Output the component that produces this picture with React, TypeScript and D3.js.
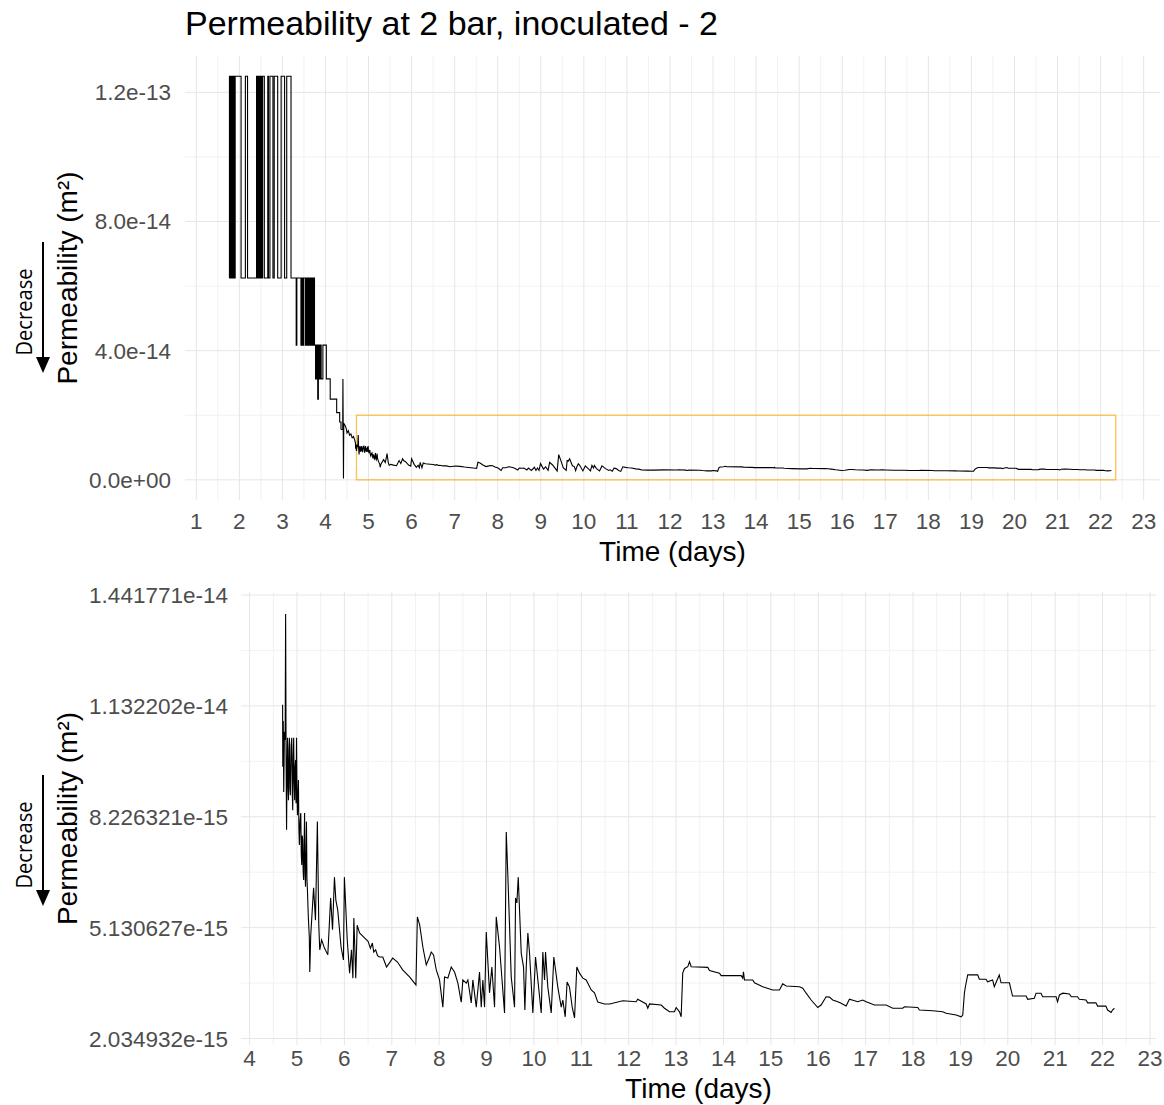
import React, { useRef, useEffect } from 'react';
import * as d3 from 'd3';

// permeability values are stored in units of 1e-15 m²
const E15 = 1e-15;

// first days: the sensor only gives a few quantised levels, each held until the next reading
const stepDays = [
    1.767, 1.770, 1.776, 1.782, 1.790, 1.797, 1.805, 1.813, 1.820, 1.830, 1.840, 1.850, 1.858, 1.866,
    1.875, 1.885, 1.893, 1.903, 2.04, 2.14, 2.19, 2.40, 2.41, 2.42, 2.43, 2.44, 2.45, 2.465, 2.475,
    2.49, 2.50, 2.515, 2.53, 2.54, 2.58, 2.66, 2.675, 2.71, 2.78, 2.81, 2.89, 2.97, 3.05, 3.10, 3.20,
    3.32, 3.335, 3.43, 3.45, 3.47, 3.49, 3.53, 3.542, 3.554, 3.566, 3.578, 3.59, 3.602, 3.614, 3.626,
    3.638, 3.65, 3.662, 3.674, 3.686, 3.698, 3.71, 3.722, 3.734, 3.745, 3.77, 3.785, 3.80, 3.81, 3.82,
    3.835, 3.845, 3.86, 3.875, 3.90, 3.94, 4.02, 4.11, 4.26, 4.33, 4.36
];
const stepPerm = [
    62.5, 125, 62.5, 125, 62.5, 125, 62.5, 125, 62.5, 125, 62.5, 125, 62.5, 125,
    62.5, 125, 62.5, 125, 62.5, 125, 62.5, 125, 62.5, 125, 62.5, 125, 62.5, 125, 62.5,
    125, 62.5, 125, 62.5, 125, 62.5, 125, 62.5, 125, 62.5, 125, 62.5, 125, 62.5, 125, 62.5,
    41.7, 62.5, 41.7, 62.5, 41.7, 62.5, 41.7, 62.5, 41.7, 62.5, 41.7, 62.5, 41.7, 62.5, 41.7,
    62.5, 41.7, 62.5, 41.7, 62.5, 41.7, 62.5, 41.7, 62.5, 41.7, 31.25, 41.7, 31.25, 41.7, 25,
    31.25, 41.7, 31.25, 41.7, 31.25, 41.7, 31.25, 25, 20.8, 17.9, 15.6
];

// drop towards the zoomed window (only seen in the top chart)
const transitionDays = [4.36, 4.40, 4.405, 4.412, 4.418, 4.425, 4.45, 4.48, 4.50, 4.53, 4.56, 4.59, 4.62, 4.65, 4.68];
const transitionPerm = [15.6, 15.6, 31.25, 15.6, 0.4, 17.5, 17.0, 16.0, 14.5, 15.2, 13.8, 14.2, 13.0, 13.4, 12.3];

// fast decay, day 4.7 to 7.6
const decayDays = [
    4.696, 4.700, 4.710, 4.720, 4.735, 4.750, 4.760, 4.770, 4.780, 4.790, 4.800, 4.810, 4.820, 4.830,
    4.840, 4.850, 4.860, 4.875, 4.890, 4.900, 4.910, 4.920, 4.930, 4.940, 4.950, 4.960, 4.970, 4.980,
    4.990, 5.000, 5.010, 5.020, 5.030, 5.040, 5.050, 5.065, 5.080, 5.090, 5.100, 5.110, 5.120, 5.130,
    5.140, 5.150, 5.160, 5.170, 5.180, 5.190, 5.200, 5.210, 5.220, 5.240, 5.260, 5.270, 5.290, 5.350,
    5.390, 5.430, 5.460, 5.480, 5.520, 5.580, 5.650, 5.710, 5.750, 5.790, 5.820, 5.860, 5.930, 5.980,
    6.000, 6.060, 6.110, 6.150, 6.180, 6.200, 6.240, 6.270, 6.320, 6.430, 6.500, 6.550, 6.590, 6.620,
    6.660, 6.700, 6.740, 6.810, 6.890, 7.020, 7.120, 7.230, 7.380, 7.480, 7.510, 7.540, 7.590
];
const decayPerm = [
    11.35, 9.62, 10.9, 8.92, 10.6, 10.37, 13.89, 9.81, 7.86, 9.5, 10.43, 9.1, 8.69, 10.1,
    10.43, 9.0, 8.83, 10.2, 10.43, 8.9, 8.41, 9.9, 10.43, 9.2, 8.69, 9.6, 9.81, 8.6,
    10.43, 8.9, 8.27, 8.8, 9.25, 7.9, 7.44, 8.1, 8.33, 7.2, 6.88, 7.7, 7.58, 6.7,
    6.46, 7.4, 8.33, 6.6, 6.27, 7.2, 8.09, 6.5, 6.18, 5.4, 4.87, 3.89, 4.92, 6.24,
    5.34, 8.09, 5.2, 4.51, 4.79, 4.56, 4.37, 5.96, 5.07, 6.54, 5.9, 5.62, 4.59, 4.23,
    6.54, 4.79, 3.86, 4.51, 3.72, 5.40, 3.72, 5.20, 4.98, 4.84, 4.75, 4.55, 4.70, 4.45,
    4.51, 4.35, 4.31, 4.31, 4.03, 4.28, 4.17, 3.95, 3.75, 3.58, 3.53, 5.43, 5.20
];

// noisy stretch, day 7.6 to 11.6
const spikyDays = [
    7.656, 7.728, 7.797, 7.833, 7.882, 7.939, 8.008, 8.078, 8.114, 8.184, 8.255, 8.325, 8.395, 8.466,
    8.500, 8.572, 8.606, 8.677, 8.711, 8.783, 8.852, 8.888, 8.922, 8.958, 8.994, 9.063, 9.112, 9.169,
    9.205, 9.274, 9.380, 9.416, 9.451, 9.521, 9.591, 9.612, 9.640, 9.669, 9.732, 9.781, 9.809, 9.838,
    9.872, 9.907, 9.977, 10.034, 10.083, 10.154, 10.188, 10.224, 10.245, 10.293, 10.365, 10.420,
    10.504, 10.576, 10.610, 10.660, 10.700, 10.751, 10.808, 10.857, 10.905, 10.962, 11.032, 11.103,
    11.209, 11.278, 11.348, 11.489, 11.600
];
const spikyPerm = [
    4.59, 4.09, 4.31, 4.45, 4.37, 3.95, 3.67, 2.91, 3.75, 3.72, 4.03, 3.89, 3.58, 3.05,
    3.67, 3.58, 3.67, 3.03, 3.67, 2.91, 3.89, 2.91, 3.67, 2.91, 5.01, 3.31, 4.03, 2.91,
    5.43, 4.59, 2.75, 7.80, 6.54, 3.75, 2.91, 5.96, 5.82, 6.54, 4.42, 4.03, 2.83, 4.03,
    4.98, 4.42, 2.75, 4.31, 3.67, 2.75, 4.45, 3.67, 4.45, 3.47, 2.75, 4.31,
    3.47, 2.91, 3.11, 2.64, 3.61, 3.47, 2.91, 2.61, 4.03, 3.86, 3.72, 3.67,
    3.39, 3.31, 3.05, 3.00, 3.00
];

// slow drift, day 11.6 to the end
const tailDays = [
    11.876, 12.158, 12.19, 12.369, 12.403, 12.439, 12.686, 12.755, 12.861, 12.966, 13.002, 13.072,
    13.107, 13.14, 13.177, 13.247, 13.283, 13.318, 13.669, 13.705, 13.916, 13.951, 14.373, 14.407,
    14.422, 14.443, 14.618, 14.654, 14.829, 15.04, 15.181, 15.25, 15.323, 15.603, 15.673, 15.745,
    15.85, 15.99, 16.06, 16.166, 16.236, 16.306, 16.412, 16.483, 16.588, 16.658, 16.834, 16.94,
    17.01, 17.186, 17.433, 17.572, 17.783, 17.819, 18.10, 18.135, 18.416, 18.627, 18.698, 18.91,
    19.015, 19.05, 19.084, 19.105, 19.154, 19.365, 19.40, 19.54, 19.574, 19.68, 19.715, 19.75,
    19.82, 19.858, 20.034, 20.069, 20.10, 20.386, 20.42, 20.56, 20.597, 20.70, 20.736, 21.02,
    21.05, 21.09, 21.16, 21.30, 21.34, 21.47, 21.51, 21.65, 21.686, 21.86, 21.896, 22.07,
    22.107, 22.18, 22.21, 22.25
];
const tailPerm = [
    3.09, 3.06, 3.13, 3.00, 2.88, 3.00, 2.97, 2.88, 2.78, 2.78, 2.90, 2.78,
    2.64, 3.86, 3.99, 4.04, 4.18, 4.04, 4.02, 3.93, 3.86, 3.79, 3.79, 3.72,
    3.90, 3.67, 3.67, 3.59, 3.48, 3.39, 3.39, 3.56, 3.50, 3.48, 3.44, 3.30,
    3.11, 2.90, 2.97, 3.20, 3.19, 3.11, 3.06, 3.02, 2.94, 3.13, 3.06, 3.11,
    3.06, 2.97, 2.97, 2.88, 2.88, 2.92, 2.90, 2.83, 2.81, 2.78, 2.74, 2.69,
    2.64, 2.69, 3.30, 3.48, 3.81, 3.81, 3.69, 3.69, 3.62, 3.67, 3.48, 3.59,
    3.81, 3.59, 3.59, 3.39, 3.22, 3.22, 3.13, 3.16, 3.30, 3.30, 3.20, 3.20,
    3.06, 3.25, 3.30, 3.28, 3.20, 3.20, 3.13, 3.11, 3.03, 3.03, 2.94, 2.94,
    2.83, 2.76, 2.83, 2.88
];

// zoomed window marked on the top chart
const zoomBox = { x0: 4.72, x1: 22.35, y0: 0, y1: 20 * E15 };
const bottomStart = 4.69;

const topXTicks = [1, 2, 3, 4, 5, 6, 7, 8, 9, 10, 11, 12, 13, 14, 15, 16, 17, 18, 19, 20, 21, 22, 23];
const topYTicks = [0, 4e-14, 8e-14, 1.2e-13];
const topYLabels = ['0.0e+00', '4.0e-14', '8.0e-14', '1.2e-13'];
const bottomXTicks = [4, 5, 6, 7, 8, 9, 10, 11, 12, 13, 14, 15, 16, 17, 18, 19, 20, 21, 22, 23];
const bottomYTicks = [2.034932e-15, 5.130627e-15, 8.226321e-15, 1.132202e-14, 1.441771e-14];
const bottomYLabels = ['2.034932e-15', '5.130627e-15', '8.226321e-15', '1.132202e-14', '1.441771e-14'];

const toPoints = (days, perm) => days.map((t, i) => ({ t, k: perm[i] * E15 }));

const FONT = '"Liberation Sans", Arial, sans-serif';

// ggplot-like 5% padding
const expand = ([lo, hi]) => {
    const pad = (hi - lo) * 0.05;
    return [lo - pad, hi + pad];
};

const minorsOf = (majors, domain) => {
    const step = majors[1] - majors[0];
    const mids = [majors[0] - step / 2, ...majors.map(v => v + step / 2)];
    return mids.filter(v => v > domain[0] && v < domain[1]);
};

const drawChart = (svg, opts) => {
    const { panel, x, y, xTicks, yTicks, yLabels, yLabelX, xLabelY, xTitleY, arrowTop } = opts;
    const g = svg.append('g');

    // grid
    const xDom = x.domain();
    const yDom = y.domain();
    minorsOf(xTicks, xDom).forEach(v => {
        g.append('line').attr('x1', x(v)).attr('x2', x(v)).attr('y1', panel.top).attr('y2', panel.bottom)
            .attr('stroke', '#f2f2f2').attr('stroke-width', 1);
    });
    minorsOf(yTicks, [Math.min(...yDom), Math.max(...yDom)]).forEach(v => {
        if (y(v) < panel.top || y(v) > panel.bottom) return;
        g.append('line').attr('x1', panel.left).attr('x2', panel.right).attr('y1', y(v)).attr('y2', y(v))
            .attr('stroke', '#f2f2f2').attr('stroke-width', 1);
    });
    xTicks.forEach(v => {
        g.append('line').attr('x1', x(v)).attr('x2', x(v)).attr('y1', panel.top).attr('y2', panel.bottom)
            .attr('stroke', '#e6e6e6').attr('stroke-width', 1);
    });
    yTicks.forEach(v => {
        g.append('line').attr('x1', panel.left).attr('x2', panel.right).attr('y1', y(v)).attr('y2', y(v))
            .attr('stroke', '#e6e6e6').attr('stroke-width', 1);
    });

    // tick labels
    g.selectAll('.xt').data(xTicks).enter().append('text')
        .attr('x', d => x(d)).attr('y', xLabelY)
        .attr('text-anchor', 'middle').attr('font-family', FONT).attr('font-size', 22.5).attr('fill', '#4d4d4d')
        .text(d => d);
    g.selectAll('.yt').data(yTicks).enter().append('text')
        .attr('x', yLabelX).attr('y', d => y(d) + 8)
        .attr('text-anchor', 'end').attr('font-family', FONT).attr('font-size', 22.5).attr('fill', '#4d4d4d')
        .text((d, i) => yLabels[i]);

    // axis titles
    const midY = (panel.top + panel.bottom) / 2;
    g.append('text')
        .attr('x', (panel.left + panel.right) / 2).attr('y', xTitleY)
        .attr('text-anchor', 'middle').attr('font-family', FONT).attr('font-size', 28).attr('fill', '#000')
        .text('Time (days)');
    g.append('text')
        .attr('transform', `translate(77,${midY}) rotate(-90)`)
        .attr('text-anchor', 'middle').attr('font-family', FONT).attr('font-size', 28).attr('fill', '#000')
        .text('Permeability (m²)');

    // "Decrease" arrow next to the y title
    g.append('line').attr('x1', 43).attr('x2', 43).attr('y1', arrowTop).attr('y2', arrowTop + 117)
        .attr('stroke', '#000').attr('stroke-width', 2);
    g.append('path')
        .attr('d', `M36,${arrowTop + 115} L50,${arrowTop + 115} L43,${arrowTop + 131} Z`)
        .attr('fill', '#000');
    g.append('text')
        .attr('transform', `translate(32,${arrowTop + 70}) rotate(-90)`)
        .attr('text-anchor', 'middle').attr('font-family', '"Open Sans", sans-serif').attr('font-size', 22)
        .attr('textLength', 87).attr('lengthAdjust', 'spacingAndGlyphs')
        .attr('fill', '#000')
        .text('Decrease');

    return g;
};

const App = () => {
    const svgRef = useRef(null);

    useEffect(() => {
        const svg = d3.select(svgRef.current);
        svg.selectAll('*').remove();

        const stepSeries = toPoints(stepDays, stepPerm);
        const lineSeries = [
            ...toPoints(transitionDays, transitionPerm),
            ...toPoints(decayDays, decayPerm),
            ...toPoints(spikyDays, spikyPerm),
            ...toPoints(tailDays, tailPerm)
        ];
        const bottomSeries = lineSeries.filter(d => d.t >= bottomStart);

        // title
        svg.append('text')
            .attr('x', 185).attr('y', 35)
            .attr('font-family', FONT).attr('font-size', 34).attr('fill', '#000')
            .text('Permeability at 2 bar, inoculated - 2');

        // ---- top chart: whole experiment
        const topPanel = { left: 185, right: 1160, top: 56, bottom: 500 };
        const xTop = d3.scaleLinear()
            .domain(expand([d3.min(stepDays), zoomBox.x1]))
            .range([topPanel.left, topPanel.right]);
        const yTop = d3.scaleLinear()
            .domain(expand([0, d3.max(stepPerm) * E15]))
            .range([topPanel.bottom, topPanel.top]);

        const gTop = drawChart(svg, {
            panel: topPanel, x: xTop, y: yTop,
            xTicks: topXTicks, yTicks: topYTicks, yLabels: topYLabels,
            yLabelX: 171, xLabelY: 529, xTitleY: 561, arrowTop: 242
        });

        gTop.append('rect')
            .attr('x', xTop(zoomBox.x0)).attr('y', yTop(zoomBox.y1))
            .attr('width', xTop(zoomBox.x1) - xTop(zoomBox.x0))
            .attr('height', yTop(zoomBox.y0) - yTop(zoomBox.y1))
            .attr('fill', 'none').attr('stroke', 'orange').attr('stroke-opacity', 0.65).attr('stroke-width', 1.4);

        const stepLine = d3.line().x(d => xTop(d.t)).y(d => yTop(d.k)).curve(d3.curveStepAfter);
        const topLine = d3.line().x(d => xTop(d.t)).y(d => yTop(d.k));
        gTop.append('path').attr('d', stepLine(stepSeries))
            .attr('fill', 'none').attr('stroke', '#000').attr('stroke-width', 1.1);
        gTop.append('path').attr('d', topLine(lineSeries))
            .attr('fill', 'none').attr('stroke', '#000').attr('stroke-width', 1.1);

        // ---- bottom chart: zoomed window
        const bottomPanel = { left: 241, right: 1156, top: 592, bottom: 1045 };
        const xBot = d3.scaleLinear()
            .domain(expand(d3.extent(bottomSeries, d => d.t)))
            .range([bottomPanel.left, bottomPanel.right]);
        const yBot = d3.scaleLinear()
            .domain([bottomYTicks[0], bottomYTicks[bottomYTicks.length - 1]])
            .range([1038.5, 595]);

        const gBot = drawChart(svg, {
            panel: bottomPanel, x: xBot, y: yBot,
            xTicks: bottomXTicks, yTicks: bottomYTicks, yLabels: bottomYLabels,
            yLabelX: 228, xLabelY: 1066, xTitleY: 1098, arrowTop: 775
        });

        const botLine = d3.line().x(d => xBot(d.t)).y(d => yBot(d.k));
        gBot.append('path').attr('d', botLine(bottomSeries))
            .attr('fill', 'none').attr('stroke', '#000').attr('stroke-width', 1.1);
    }, []);

    return (
        <svg
            ref={svgRef}
            width={1164}
            height={1105}
            style={{ position: 'absolute', left: 0, top: 0, background: '#fff' }}
        />
    );
};

export default App;
